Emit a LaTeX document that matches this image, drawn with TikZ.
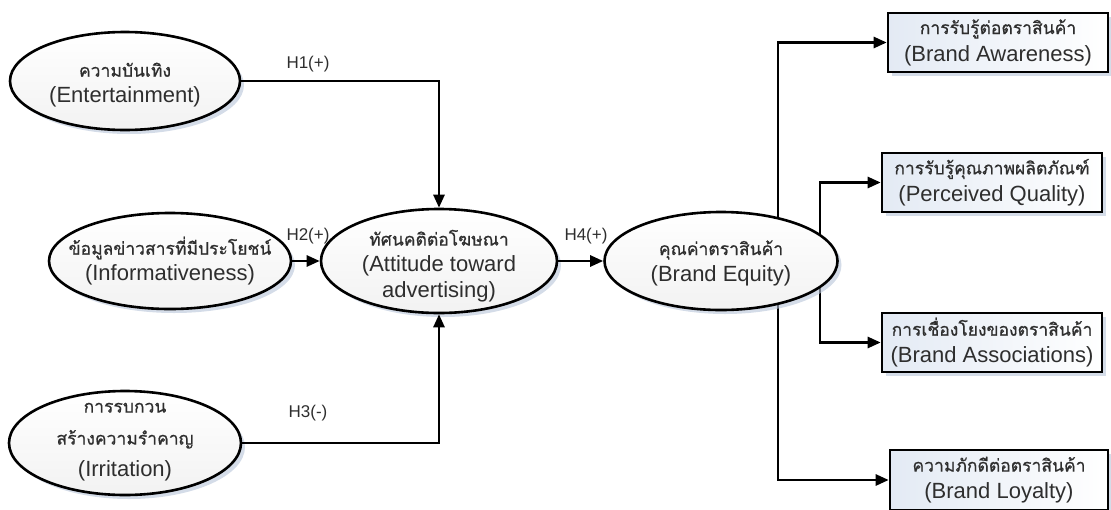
\documentclass[tikz,border=0pt]{standalone}
\usepackage{fontspec}
\setmainfont{Liberation Sans}
\newfontfamily\thaifont[Script=Thai,FakeBold=0.7]{Loma}
\usetikzlibrary{arrows.meta,shadows,shapes.geometric,backgrounds,calc}
\definecolor{txt}{HTML}{2E2E2E}
\definecolor{shade}{HTML}{B8C4D8}
\definecolor{boxfill}{HTML}{E3EAF4}
\newcommand{\thl}[2]{{\thaifont\fontsize{17.5}{#1}\selectfont #2}}
\begin{document}
\lineskiplimit=-30pt\relax
\lineskip=0pt\relax
\begin{tikzpicture}[x=1pt,y=-1pt,
  ell/.style={ellipse, draw, line width=2.6pt, inner sep=0pt,
    top color=white, bottom color=black!5,
    drop shadow={shadow xshift=4pt, shadow yshift=-4pt, opacity=0.6, fill=shade}},
  etext/.style={align=center, text=txt, inner sep=0pt,
    font=\fontsize{22}{26}\selectfont},
  boxnode/.style={rectangle, draw, line width=2.6pt, inner sep=0pt,
    minimum width=220pt, minimum height=59pt, align=center, text=txt,
    left color=boxfill, right color=white,
    font=\fontsize{22}{27}\selectfont,
    drop shadow={shadow xshift=4pt, shadow yshift=-4pt, opacity=0.6, fill=shade}},
  conn/.style={line width=2.6pt, -{Triangle[length=13pt,width=11pt]}},
  hlab/.style={text=txt, inner sep=0pt, font=\fontsize{17}{20}\selectfont}]
\useasboundingbox (0,0) rectangle (1111,509);

% ellipses
\node[ell, minimum width=230pt, minimum height=98pt] (ent) at (125,81) {};
\node[etext] (entT) at ($(ent.center)+(0,4)$) {\thl{26}{ความบันเทิง}\\(Entertainment)};

\node[ell, minimum width=242pt, minimum height=96pt] (inf) at (170,261) {};
\node[etext] (infT) at (inf.center) {\thl{24}{ข้อมูลข่าวสารที่มีประโยชน์}\\(Informativeness)};

\node[ell, minimum width=232pt, minimum height=104pt] (irr) at (125,443) {};
\node[etext, font=\fontsize{22}{32}\selectfont] (irrT) at ($(irr.center)+(0,-1)$) {\thl{32}{การรบกวน}\\\thl{33}{สร้างความรำคาญ}\\(Irritation)};

\node[ell, minimum width=236pt, minimum height=104pt] (att) at (439,261) {};
\node[etext] (attT) at ($(att.center)+(0,5)$) {\thl{26}{ทัศนคติต่อโฆษณา}\\(Attitude toward\\advertising)};

\node[ell, minimum width=233pt, minimum height=98pt] (be) at (721,261) {};
\node[etext] (beT) at ($(be.center)+(0,2)$) {\thl{26}{คุณค่าตราสินค้า}\\(Brand Equity)};

% boxes
\node[boxnode] (awa) at (998,42.5) {\thl{27}{การรับรู้ต่อตราสินค้า}\\(Brand Awareness)};
\node[boxnode] (pq) at (992,182.5) {\thl{27}{การรับรู้คุณภาพผลิตภัณฑ์}\\(Perceived Quality)};
\node[boxnode] (ass) at (992,342.5) {\thl{27}{การเชื่องโยงของตราสินค้า}\\(Brand Associations)};
\node[boxnode, minimum width=218pt, minimum height=60pt] (loy) at (999,480) {\thl{27}{ความภักดีต่อตราสินค้า}\\(Brand Loyalty)};

% connectors
\draw[conn] (ent.east) -| (att.north);
\draw[conn] (inf.east) -- (att.west);
\draw[conn] (irr.east) -| (att.south);
\draw[conn] (att.east) -- (be.west);
\begin{scope}[on background layer]
\draw[conn] ($(be.center)+(57,0)$) |- (awa.west);
\draw[conn] ($(be.center)+(99,0)$) |- (pq.west);
\draw[conn] ($(be.center)+(99,0)$) |- (ass.west);
\draw[conn] ($(be.center)+(57,0)$) |- (loy.west);
\end{scope}

% labels
\node[hlab] (h1) at (308,64) {H1(+)};
\node[hlab] (h2) at (308,236) {H2(+)};
\node[hlab] (h3) at (308,413) {H3(-)};
\node[hlab] (h4) at (586,236) {H4(+)};
\end{tikzpicture}
\end{document}
